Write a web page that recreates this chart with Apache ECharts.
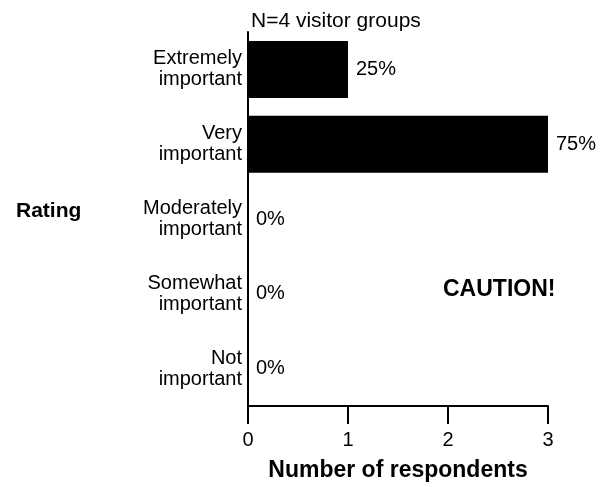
<!DOCTYPE html>
<html>
<head>
<meta charset="utf-8">
<script src="https://cdn.jsdelivr.net/npm/echarts@6/dist/echarts.min.js"></script>
<style>html,body{margin:0;padding:0;background:#fff}#c{width:607px;height:487px}</style>
</head>
<body>
<div id="c"></div>
<script>
var categories = ["Extremely\nimportant", "Very\nimportant", "Moderately\nimportant", "Somewhat\nimportant", "Not\nimportant"];
var counts = [1, 3, 0, 0, 0];
var percentLabels = ["25%", "75%", "0%", "0%", "0%"];
var xTicks = [0, 1, 2, 3];
var titleText = "N=4 visitor groups";
var xAxisTitle = "Number of respondents";
var yAxisTitle = "Rating";
var noteText = "CAUTION!";

var FONT = "Liberation Sans, Arial, Helvetica, sans-serif";
var chart = echarts.init(document.getElementById('c'), null, {renderer: 'canvas'});
chart.setOption({
  backgroundColor: '#fff',
  animation: false,
  title: {
    text: titleText, left: 246, top: 6,
    textStyle: {fontFamily: FONT, fontSize: 21, fontWeight: 'normal', color: '#000'}
  },
  grid: {left: 248, right: 59, top: 32, bottom: 80, containLabel: false},
  xAxis: {
    type: 'value', min: xTicks[0], max: xTicks[xTicks.length - 1], interval: 1,
    name: xAxisTitle, nameLocation: 'middle', nameGap: 53,
    nameTextStyle: {fontFamily: FONT, fontSize: 23, fontWeight: 'bold', color: '#000'},
    axisLine: {show: true, lineStyle: {color: '#000', width: 2}},
    axisTick: {show: true, length: 18, lineStyle: {color: '#000', width: 2}},
    axisLabel: {margin: 24, fontFamily: FONT, fontSize: 20, color: '#000'},
    splitLine: {show: false}
  },
  yAxis: {
    type: 'category', inverse: true, data: categories,
    axisLine: {show: true, onZero: false, lineStyle: {color: '#000', width: 2}},
    axisTick: {show: false},
    axisLabel: {margin: 6, fontFamily: FONT, fontSize: 20, lineHeight: 21, color: '#000', align: 'right'},
    splitLine: {show: false}
  },
  series: [{
    type: 'bar', data: counts, barWidth: 57,
    itemStyle: {color: '#000'},
    label: {
      show: true, position: 'right', distance: 8,
      fontFamily: FONT, fontSize: 20, color: '#000',
      formatter: function (p) { return percentLabels[p.dataIndex]; }
    }
  }],
  graphic: [
    {type: 'text', left: 16, top: 201, style: {text: yAxisTitle, font: 'bold 21px ' + FONT, fill: '#000'}},
    {type: 'text', left: 443, top: 278, style: {text: noteText, font: 'bold 23px ' + FONT, fill: '#000'}}
  ]
});
</script>
</body>
</html>
